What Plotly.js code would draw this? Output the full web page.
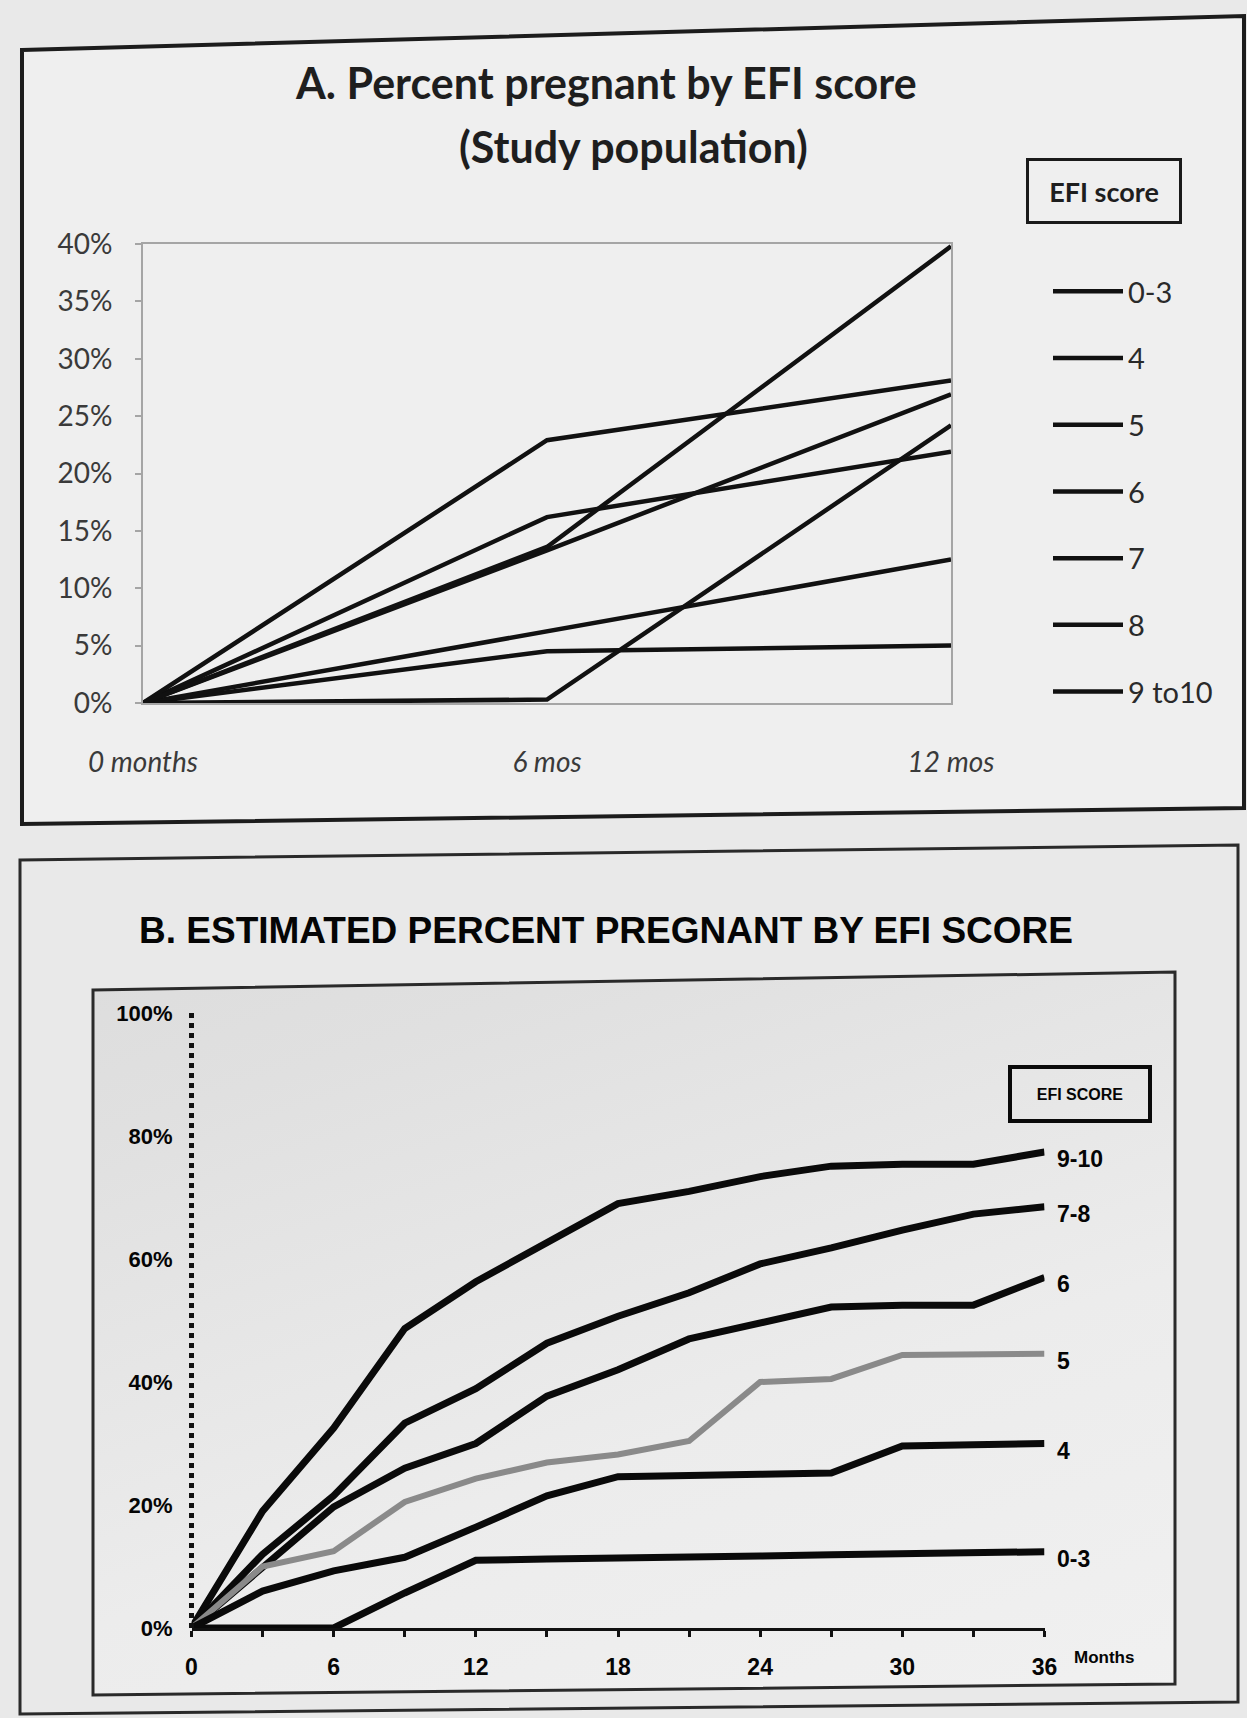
<!DOCTYPE html>
<html>
<head>
<meta charset="utf-8">
<script src="https://cdn.plot.ly/plotly-3.0.1.min.js"></script>
<style>
  html, body { margin:0; padding:0; background:#e9e9e9; }
  #wrap { position:relative; width:1247px; height:1718px; overflow:hidden; }
  #shade { position:absolute; left:0; top:0; width:1247px; height:1718px;
           background:linear-gradient(162deg, #cfcfcf 0%, #d7d7d7 30%, #e0e0e0 55%, #ececec 78%, #f1f1f1 100%);
           clip-path:polygon(93px 990px, 1175px 972px, 1175px 1684px, 93px 1695px); }
  #panelA { position:absolute; left:0; top:0; width:1247px; height:1718px; background:#efefef;
           clip-path:polygon(22px 50px, 1244px 16px, 1244px 808px, 22px 824px); }
  #chart { position:absolute; left:0; top:0; width:1247px; height:1718px; }
</style>
</head>
<body>
<div id="wrap">
  <div id="panelA"></div>
  <div id="shade"></div>
  <div id="chart"></div>
</div>
<script>
// ---------- Panel A data (observed, study population) ----------
const monthsA = [0, 6, 12];
const monthLabelsA = ['0 months', '6 mos', '12 mos'];
const namesA = ['0-3', '4', '5', '6', '7', '8', '9 to10'];
const a_0_3 = [0, 4.5, 5.0];
const a_4   = [0, 6.3, 12.5];
const a_5   = [0, 0.3, 24.2];
const a_6   = [0, 16.2, 21.9];
const a_7   = [0, 13.3, 26.9];
const a_8   = [0, 22.9, 28.1];
const a_9_10 = [0, 13.6, 39.8];
const seriesA = [a_0_3, a_4, a_5, a_6, a_7, a_8, a_9_10];

// ---------- Panel B data (estimated) ----------
const monthsB = [0, 3, 6, 9, 12, 15, 18, 21, 24, 27, 30, 33, 36];
const namesB = ['9-10', '7-8', '6', '5', '4', '0-3'];
const b_9_10 = [0, 19, 32.5, 48.7, 56.3, 62.6, 69, 71, 73.4, 75.1, 75.4, 75.4, 77.4];
const b_7_8  = [0, 12, 21.5, 33.3, 38.9, 46.3, 50.7, 54.5, 59.2, 61.8, 64.7, 67.3, 68.5];
const b_6    = [0, 10, 19.7, 26, 30, 37.7, 42, 47, 49.6, 52.2, 52.5, 52.5, 57];
const b_5    = [0, 10, 12.5, 20.5, 24.3, 26.9, 28.2, 30.4, 40, 40.5, 44.4, 44.6, 44.6];
const b_4    = [0, 6, 9.3, 11.5, 16.4, 21.5, 24.6, 24.9, 25, 25.2, 29.6, 29.8, 30];
const b_0_3  = [0, 0, 0, 5.7, 11, 11.2, 11.3, 11.5, 11.7, 11.9, 12.1, 12.3, 12.4];
const seriesB = [b_9_10, b_7_8, b_6, b_5, b_4, b_0_3];
const colorsB = ['#0a0a0a', '#0a0a0a', '#0a0a0a', '#8a8a8a', '#0a0a0a', '#0a0a0a'];

// ---------- helpers for pixel -> paper ----------
const W = 1247, H = 1718;
const px = x => x / W;
const py = y => 1 - y / H;
const quad = pts => 'M' + pts.map(p => px(p[0]).toFixed(5) + ',' + py(p[1]).toFixed(5)).join(' L') + ' Z';

const traces = [];
seriesA.forEach((ys, i) => {
  traces.push({
    x: monthsA, y: ys, xaxis: 'x', yaxis: 'y', type: 'scatter', mode: 'lines',
    name: namesA[i], legendgroup: 'g' + i,
    line: { color: '#111111', width: 4.5 }
  });
});
seriesB.forEach((ys, i) => {
  traces.push({
    x: monthsB, y: ys, xaxis: 'x2', yaxis: 'y2', type: 'scatter', mode: 'lines',
    name: namesB[i], showlegend: false, legendgroup: 'b' + i,
    line: { color: colorsB[i], width: i === 3 ? 6 : 7 }
  });
});

const fontA = 'Lato, "Open Sans", sans-serif';
const fontB = '"Liberation Sans", Arial, sans-serif';

const annotations = [
  { text: 'A. Percent pregnant by EFI score', xref: 'paper', yref: 'paper', x: px(606), y: py(82),
    xanchor: 'center', yanchor: 'middle', showarrow: false,
    font: { family: fontA, size: 43, color: '#1e1e1e', weight: 'bold' } },
  { text: '(Study population)', xref: 'paper', yref: 'paper', x: px(633), y: py(146),
    xanchor: 'center', yanchor: 'middle', showarrow: false,
    font: { family: fontA, size: 43, color: '#1e1e1e', weight: 'bold' } },
  { text: 'EFI score', xref: 'paper', yref: 'paper', x: px(1104), y: py(191),
    xanchor: 'center', yanchor: 'middle', showarrow: false,
    width: 142, height: 52, borderpad: 4, borderwidth: 3, bordercolor: '#1a1a1a',
    font: { family: fontA, size: 27, color: '#1e1e1e', weight: 'bold' } },
  { text: 'B. ESTIMATED PERCENT PREGNANT BY EFI SCORE', xref: 'paper', yref: 'paper', x: px(606), y: py(930),
    xanchor: 'center', yanchor: 'middle', showarrow: false,
    font: { family: fontB, size: 37, color: '#050505', weight: 'bold' } },
  { text: 'EFI SCORE', xref: 'paper', yref: 'paper', x: px(1080), y: py(1094),
    xanchor: 'center', yanchor: 'middle', showarrow: false,
    width: 128, height: 42, borderpad: 4, borderwidth: 4, bordercolor: '#0a0a0a',
    font: { family: fontB, size: 16, color: '#050505', weight: 'bold' } },
  { text: 'Months', xref: 'paper', yref: 'paper', x: px(1072), y: py(1657),
    xanchor: 'left', yanchor: 'middle', showarrow: false,
    font: { family: fontB, size: 17, color: '#050505', weight: 'bold' } }
];
seriesB.forEach((ys, i) => {
  annotations.push({
    text: namesB[i], xref: 'x2', yref: 'y2',
    x: monthsB[monthsB.length - 1], y: ys[ys.length - 1],
    xanchor: 'left', yanchor: 'middle', xshift: 10, yshift: -7, showarrow: false,
    font: { family: fontB, size: 23, color: '#050505', weight: 'bold' }
  });
});

const shapes = [
  { type: 'path', xref: 'paper', yref: 'paper', path: quad([[22,50],[1244,16],[1244,808],[22,824]]),
    line: { color: '#1c1c1c', width: 4 } },
  { type: 'path', xref: 'paper', yref: 'paper', path: quad([[20,860],[1238,845],[1238,1702],[20,1714]]),
    line: { color: '#2a2a2a', width: 3 } },
  { type: 'path', xref: 'paper', yref: 'paper', path: quad([[93,990],[1175,972],[1175,1684],[93,1695]]),
    line: { color: '#2a2a2a', width: 3 } },
  { type: 'line', xref: 'x2 domain', yref: 'y2 domain', x0: 0, x1: 0, y0: 0, y1: 1,
    line: { color: '#111111', width: 5, dash: 'dot' } }
];

const layout = {
  width: W, height: H,
  margin: { l: 0, r: 0, t: 0, b: 0, pad: 0 },
  paper_bgcolor: 'rgba(0,0,0,0)',
  plot_bgcolor: 'rgba(0,0,0,0)',
  showlegend: true,
  font: { family: fontA, color: '#333' },
  xaxis: {
    domain: [px(143), px(951)], range: [0, 12], anchor: 'y',
    tickmode: 'array', tickvals: monthsA, ticktext: monthLabelsA,
    showline: true, mirror: true, linecolor: '#a5a5a5', linewidth: 2,
    ticks: '', showgrid: false, zeroline: false,
    tickfont: { family: fontA, size: 28, color: '#3a3a3a', style: 'italic' },
    ticklabelstandoff: 33
  },
  yaxis: {
    domain: [py(703), py(244)], range: [0, 40], anchor: 'x',
    dtick: 5, ticksuffix: '%',
    showline: true, mirror: true, linecolor: '#a5a5a5', linewidth: 2,
    ticks: 'outside', ticklen: 6, tickcolor: '#a5a5a5', tickwidth: 2,
    showgrid: false, zeroline: false,
    tickfont: { family: fontA, size: 28, color: '#3a3a3a' },
    ticklabelstandoff: 17
  },
  xaxis2: {
    domain: [px(191.5), px(1044.5)], range: [0, 36], anchor: 'y2',
    tickmode: 'linear', tick0: 0, dtick: 6,
    showline: true, linecolor: '#111', linewidth: 3,
    ticks: 'outside', ticklen: 6, tickwidth: 3, tickcolor: '#111',
    minor: { dtick: 3, ticks: 'outside', ticklen: 6, tickwidth: 3, tickcolor: '#111' },
    showgrid: false, zeroline: false,
    tickfont: { family: fontB, size: 23, color: '#050505', weight: 'bold' },
    ticklabelstandoff: 10
  },
  yaxis2: {
    domain: [py(1628), py(1013)], range: [0, 100], anchor: 'x2',
    tickmode: 'linear', tick0: 0, dtick: 20, ticksuffix: '%',
    showline: false, ticks: '', showgrid: false, zeroline: false,
    tickfont: { family: fontB, size: 22, color: '#050505', weight: 'bold' },
    ticklabelstandoff: 18
  },
  legend: {
    x: px(1048), y: py(266), xanchor: 'left', yanchor: 'top',
    bgcolor: 'rgba(0,0,0,0)', borderwidth: 0,
    itemwidth: 70, tracegroupgap: 26, traceorder: 'grouped',
    font: { family: fontA, size: 29, color: '#2a2a2a' }
  },
  annotations: annotations,
  shapes: shapes
};

Plotly.newPlot('chart', traces, layout, { displayModeBar: false, staticPlot: true });
</script>
</body>
</html>
